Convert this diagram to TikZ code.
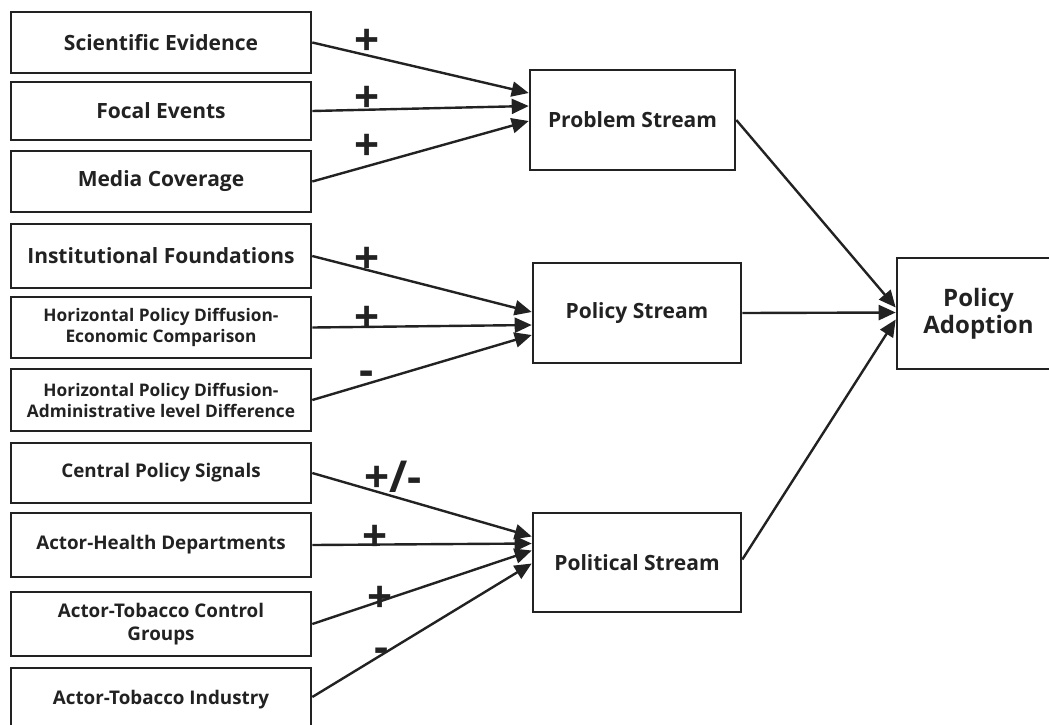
\documentclass[tikz,border=0pt]{standalone}
\usepackage{fontspec}
\setmainfont{Open Sans}
\usetikzlibrary{arrows.meta,calc}
\definecolor{ink}{HTML}{222222}
\begin{document}
\begin{tikzpicture}[x=1pt,y=-1pt,
  box/.style={draw=ink,line width=2.6pt,inner sep=0pt,align=center,text=ink,
    font=\bfseries\fontsize{21}{27}\selectfont},
  lbox/.style={box,minimum width=300pt},
  hbox/.style={lbox,font=\bfseries\fontsize{17.3}{21}\selectfont},
  abox/.style={lbox,font=\bfseries\fontsize{18.8}{23}\selectfont},
  conn/.style={draw=ink,line width=2.4pt,-{Triangle[length=17pt,width=15pt]}},
  sign/.style={text=ink,inner sep=0pt,font=\bfseries\fontsize{44}{44}\selectfont}]
\useasboundingbox (0,0) rectangle (1049,724);
\fill[white] (0,0) rectangle (1049,724);
% left column
\node[lbox,minimum height=61pt] (se) at (161,42.5) {Scientific Evidence};
\node[lbox,minimum height=58pt] (fe) at (161,111) {Focal Events};
\node[lbox,minimum height=61pt] (mc) at (161,181.5) {Media Coverage};
\node[lbox,minimum height=64pt] (inf) at (161,256) {Institutional Foundations};
\node[hbox,minimum height=61pt] (hec) at (161,327.5) {Horizontal Policy Diffusion-\\Economic Comparison};
\node[hbox,minimum height=62pt] (had) at (161,400) {Horizontal Policy Diffusion-\\Administrative level Difference};
\node[abox,minimum height=60pt] (cps) at (161,473) {Central Policy Signals};
\node[abox,minimum height=64pt] (ahd) at (161,545) {Actor-Health Departments};
\node[abox,minimum height=64pt] (atc) at (161,624) {Actor-Tobacco Control\\Groups};
\node[abox,minimum height=64pt] (ati) at (161,700) {Actor-Tobacco Industry};
% streams
\node[box,minimum width=205pt,minimum height=100pt] (pr) at (632.5,120) {Problem Stream};
\node[box,minimum width=208pt,minimum height=100pt] (ps) at (637,313) {Policy Stream};
\node[box,minimum width=208pt,minimum height=99pt] (pl) at (637,562.5) {Political Stream};
\node[box,minimum width=163pt,minimum height=111pt,font=\bfseries\fontsize{24}{27}\selectfont] (pa) at (978.5,313.5) {Policy\\Adoption};
% connectors
\draw[conn] (se.east) -- ($(pr.west)+(0,-27)$);
\draw[conn] (fe.east) -- ($(pr.west)+(0,-14)$);
\draw[conn] (mc.east) -- ($(pr.west)+(0,1)$);
\draw[conn] (inf.east) -- ($(ps.west)+(0,-1)$);
\draw[conn] (hec.east) -- ($(ps.west)+(0,12)$);
\draw[conn] (had.east) -- ($(ps.west)+(0,22)$);
\draw[conn] (cps.east) -- ($(pl.west)+(0,-26)$);
\draw[conn] (ahd.east) -- ($(pl.west)+(0,-19)$);
\draw[conn] (atc.east) -- ($(pl.west)+(0,-12)$);
\draw[conn] ($(ati.east)+(0,-3)$) -- ($(pl.west)+(0,1)$);
\draw[conn] (pr.east) -- ($(pa.west)+(0,-6)$);
\draw[conn] (ps.east) -- ($(pa.west)+(0,-1)$);
\draw[conn] ($(pl.east)+(0,-3)$) -- ($(pa.west)+(0,6)$);
% signs
\node[sign] (s1) at (367,42) {+};
\node[sign] (s2) at (367,99) {+};
\node[sign] (s3) at (367,147) {+};
\node[sign] (s4) at (367,260) {+};
\node[sign] (s5) at (367,319) {+};
\node[sign] (s6) at (367,378) {-};
\node[sign] (s7) at (393,477) {+/-};
\node[sign] (s8) at (375,538) {+};
\node[sign] (s9) at (380,599) {+};
\node[sign] (s10) at (382,655) {-};
\end{tikzpicture}
\end{document}
